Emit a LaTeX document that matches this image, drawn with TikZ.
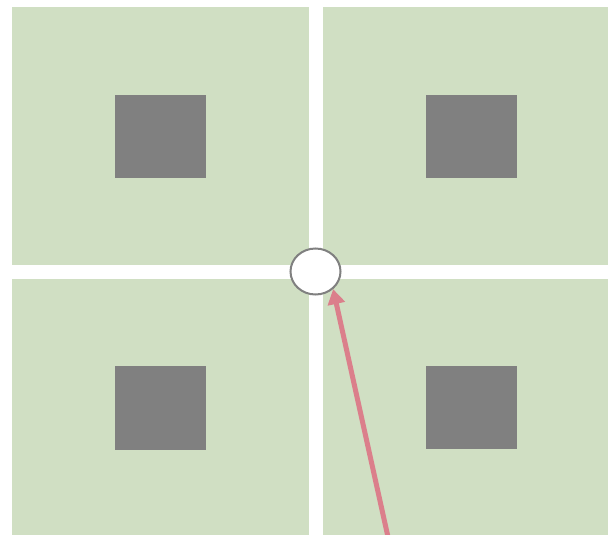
\documentclass[tikz,border=0pt]{standalone}
\usetikzlibrary{arrows.meta,shapes.geometric}
\definecolor{fieldgreen}{HTML}{D0DFC3}
\definecolor{blockgray}{HTML}{808080}
\definecolor{arrowpink}{HTML}{DB7F8B}
\tikzset{
  field/.style={fill=fieldgreen,draw=none},
  block/.style={fill=blockgray,draw=none},
  hub/.style={ellipse,draw=blockgray,line width=2pt,fill=white,minimum width=50pt,minimum height=46pt,inner sep=0pt},
  pointer/.style={draw=arrowpink,line width=5pt,-{Triangle[width=17pt,length=15pt]}}
}
\begin{document}
\begin{tikzpicture}[x=1pt,y=-1pt]
\useasboundingbox (0,0) rectangle (608,535);
\fill[white] (0,0) rectangle (608,535);
\fill[field] (12,7) rectangle (309,265);
\fill[field] (323,7) rectangle (608,265);
\fill[field] (12,279) rectangle (309,535);
\fill[field] (323,279) rectangle (608,535);
\fill[block] (115,95) rectangle (206,178);
\fill[block] (426,95) rectangle (517,178);
\fill[block] (115,366) rectangle (206,450);
\fill[block] (426,366) rectangle (517,449);
\node[hub] (e) at (315.5,271.5) {};
\coordinate (s) at (388,537);
\draw[pointer] (s) -- (e.-45);
\end{tikzpicture}
\end{document}
